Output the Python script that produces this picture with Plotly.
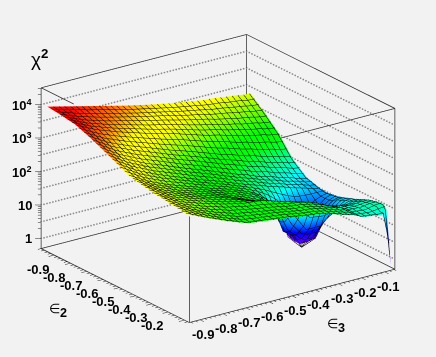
import plotly.graph_objects as go

# ROOT surf1 style chi2 scan, z is stored as log10(chi2)
eps2 = [-0.95, -0.864, -0.778, -0.692, -0.606, -0.52, -0.48, -0.452, -0.416, -0.379, -0.343, -0.297,
        -0.252, -0.219, -0.176, -0.133, -0.116, -0.09]
eps3 = [-0.94, -0.852, -0.764, -0.676, -0.588, -0.50, -0.412, -0.368, -0.323, -0.279,
        -0.252, -0.216, -0.181, -0.127, -0.104, -0.086, -0.06]
# one row per eps2 value, one column per eps3 value; None is the empty cell at the dip
log_chi2 = [
    [4.00, 3.85, 3.70, 3.55, 3.40, 3.27, 3.15, 3.10, 3.05, 3.00, 2.98, 2.96, 2.92, 2.88, 2.85, 2.83, 2.82],
    [3.95, 3.71, 3.53, 3.38, 3.23, 3.10, 2.95, 2.88, 2.82, 2.74, 2.70, 2.66, 2.60, 2.54, 2.50, 2.48, 2.46],
    [3.88, 3.59, 3.37, 3.18, 3.00, 2.84, 2.65, 2.56, 2.49, 2.40, 2.35, 2.29, 2.22, 2.15, 2.10, 2.08, 2.05],
    [3.72, 3.36, 3.10, 2.88, 2.65, 2.45, 2.23, 2.12, 2.03, 1.92, 1.86, 1.80, 1.71, 1.62, 1.57, 1.53, 1.50],
    [3.53, 3.15, 2.86, 2.63, 2.39, 2.17, 1.94, 1.82, 1.72, 1.60, 1.54, 1.48, 1.38, 1.28, 1.22, 1.18, 1.15],
    [3.33, 2.96, 2.68, 2.45, 2.22, 2.01, 1.78, 1.67, 1.57, 1.46, 1.40, 1.33, 1.24, 1.14, 1.09, 1.05, 1.02],
    [3.24, 2.88, 2.62, 2.40, 2.18, 1.98, 1.75, 1.62, 1.46, 1.25, 1.12, 0.95, 0.85, 0.88, 0.93, 0.97, 1.00],
    [3.17, 2.83, 2.57, 2.36, 2.15, 1.96, 1.72, 1.55, 1.25, 0.85, 0.10, 0.05, 0.10, 0.70, 0.88, 0.97, 1.02],
    [3.12, 2.79, 2.54, 2.34, 2.14, 1.95, 1.70, 1.50, 1.10, 0.55, 0.05, None, 0.10, 0.75, 0.90, 0.98, 1.05],
    [3.08, 2.76, 2.52, 2.33, 2.14, 1.92, 1.65, 1.40, 0.55, 0.35, 0.05, 0.05, 0.10, 0.85, 1.02, 1.10, 1.10],
    [3.05, 2.74, 2.52, 2.33, 2.15, 1.90, 1.65, 1.38, 0.70, 0.40, 0.30, 0.30, 0.60, 0.95, 1.10, 1.17, 1.17],
    [3.00, 2.72, 2.52, 2.34, 2.18, 1.98, 1.75, 1.62, 1.20, 0.75, 0.75, 0.75, 0.95, 1.15, 1.22, 1.25, 1.25],
    [2.98, 2.70, 2.50, 2.32, 2.18, 2.12, 1.92, 1.85, 1.75, 1.56, 1.50, 1.44, 1.38, 1.30, 1.35, 1.35, 1.35],
    [2.95, 2.68, 2.46, 2.28, 2.15, 2.05, 1.92, 1.88, 1.82, 1.72, 1.62, 1.50, 1.40, 1.40, 1.42, 1.42, 1.42],
    [2.93, 2.65, 2.42, 2.22, 2.11, 2.01, 1.90, 1.87, 1.80, 1.70, 1.63, 1.57, 1.45, 1.43, 1.46, 1.47, 1.47],
    [2.90, 2.63, 2.38, 2.17, 2.08, 2.00, 1.89, 1.86, 1.79, 1.69, 1.63, 1.56, 1.44, 1.40, 1.44, 1.48, 1.50],
    [2.89, 2.62, 2.37, 2.15, 2.07, 1.99, 1.88, 1.85, 1.78, 1.68, 1.62, 1.55, 1.43, 1.39, 1.38, 1.38, 1.38],
    [2.88, 2.60, 2.35, 2.13, 2.06, 1.98, 1.88, 1.85, 1.78, 1.68, 1.62, 1.55, 1.43, 1.38, 1.35, 1.36, -0.20],
]
dip_eps2 = -0.416
dip_eps3 = -0.216
dip_log = -0.20
# table cells around the dip that its wires run to (row, column)
dip_wires = [(7, 10), (7, 11), (7, 12), (8, 10), (8, 12), (9, 10), (9, 11), (9, 12)]

eps2_ticks = [-0.9, -0.8, -0.7, -0.6, -0.5, -0.4, -0.3, -0.2]
eps3_ticks = [-0.9, -0.8, -0.7, -0.6, -0.5, -0.4, -0.3, -0.2, -0.1]
z_ticks = [0, 1, 2, 3, 4]
z_labels = ["1", "10", "10<sup>2</sup>", "10<sup>3</sup>", "10<sup>4</sup>"]
z_grid = [0, 0.5, 1, 1.5, 2, 2.5, 3, 3.5, 4]
log_minor = [0.301, 0.477, 0.602, 0.699, 0.778, 0.845, 0.903, 0.954]

e2lo, e2hi = -0.98, -0.07
e3lo, e3hi = -0.946, -0.056
z0, z1 = -0.3, 4.5
BG = "#f2f2f2"
LABEL = dict(family="Liberation Sans", size=13, color="black", weight="bold")

palette = [
    [0.0, "#8000ff"], [0.16, "#0000ff"], [0.33, "#00ffff"], [0.50, "#00ff00"], [0.56, "#00ff00"],
    [0.74, "#ffff00"], [0.80, "#ffff00"], [0.87, "#ff8000"], [0.96, "#ff0000"], [1.0, "#ff0000"],
]

fig = go.Figure()
fig.add_trace(go.Surface(
    x=eps2, y=eps3, z=[list(col) for col in zip(*log_chi2)],
    colorscale=palette, cmin=-0.1, cmax=4.0, showscale=False, hoverinfo="skip",
    lighting=dict(ambient=1, diffuse=0, specular=0, roughness=1, fresnel=0),
    contours=dict(
        x=dict(show=True, start=-0.95, end=-0.09, size=0.025, color="#000000", width=2),
        y=dict(show=True, start=-0.94, end=-0.06, size=0.025, color="#000000", width=2),
    ),
))


def add_lines(segments, color, width):
    xs, ys, zs = [], [], []
    for a, b in segments:
        xs += [a[0], b[0], None]
        ys += [a[1], b[1], None]
        zs += [a[2], b[2], None]
    fig.add_trace(go.Scatter3d(x=xs, y=ys, z=zs, mode="lines", hoverinfo="skip",
                               line=dict(color=color, width=width)))


frame = [
    ((e2lo, e3lo, z0), (e2lo, e3lo, z1)),
    ((e2lo, e3lo, z1), (e2lo, e3hi, z1)),
    ((e2lo, e3hi, z1), (e2hi, e3hi, z1)),
    ((e2hi, e3hi, z1), (e2hi, e3hi, z0)),
    ((e2lo, e3hi, z0), (e2lo, e3hi, z1)),
    ((e2lo, e3lo, z0), (e2hi, e3lo, z0)),
    ((e2hi, e3lo, z0), (e2hi, e3hi, z0)),
    ((e2lo, e3lo, z0), (e2lo, e3hi, z0)),
    ((e2lo, e3hi, z0), (e2hi, e3hi, z0)),
    # the front edges only show where the surface does not cover them
    ((e2hi, e3lo, z0), (e2hi, e3lo, z0 + 0.66 * (z1 - z0))),
    ((e2lo, e3lo, z1), (e2lo + 0.22 * (e2hi - e2lo), e3lo, z1)),
    ((e2hi, e3hi, z1), (e2hi, e3hi - 0.554 * (e3hi - e3lo), z1)),
]
add_lines(frame, "#303030", 1.5)

add_lines([((dip_eps2, dip_eps3, dip_log), (eps2[r], eps3[c], log_chi2[r][c])) for r, c in dip_wires],
          "#000000", 1)

# dotted grid on the two back walls, drawn as small points
dots_x, dots_y, dots_z = [], [], []
for z in z_grid:
    for k in range(70):
        dots_x.append(e2lo)
        dots_y.append(e3lo + (e3hi - e3lo) * k / 70)
        dots_z.append(z)
    for k in range(55):
        dots_x.append(e2lo + (e2hi - e2lo) * k / 55)
        dots_y.append(e3hi)
        dots_z.append(z)
fig.add_trace(go.Scatter3d(x=dots_x, y=dots_y, z=dots_z, mode="markers", hoverinfo="skip",
                           marker=dict(size=1, color="#8a8a8a", line=dict(width=0))))

ticks = []
for i in range(-49, -1):
    v = i / 50
    size = 0.024 if i % 5 == 0 else 0.014
    if e2lo <= v <= e2hi:
        ticks.append(((v, e3lo, z0), (v, e3lo - size, z0)))
    if e3lo <= v <= e3hi:
        ticks.append(((e2hi, v, z0), (e2hi + size, v, z0)))
for d in range(0, 5):
    ticks.append(((e2lo, e3lo, d), (e2lo - 0.0126, e3lo - 0.0172, d)))
    for m in log_minor:
        if d + m < z1:
            ticks.append(((e2lo, e3lo, d + m), (e2lo - 0.007, e3lo - 0.009, d + m)))
add_lines(ticks, "#202020", 1)

notes = []
for v in eps2_ticks:
    notes.append(dict(x=v, y=e3lo, z=z0, text=f"{v:.1f}", showarrow=False, font=LABEL, xshift=-16, yshift=-14))
for v in eps3_ticks:
    notes.append(dict(x=e2hi, y=v, z=z0, text=f"{v:.1f}", showarrow=False, font=LABEL, xshift=3, yshift=-15))
for v, label in zip(z_ticks, z_labels):
    notes.append(dict(x=e2lo, y=e3lo, z=v, text=label, showarrow=False, font=LABEL, xanchor="right", xshift=-7))

TITLE = dict(family="Liberation Sans", size=18, color="black")
fig.update_layout(
    width=436, height=357, margin=dict(l=0, r=0, t=0, b=0),
    paper_bgcolor=BG, showlegend=False,
    scene=dict(
        xaxis=dict(visible=False, range=[e2lo - 0.05, e2hi + 0.05]),
        yaxis=dict(visible=False, range=[e3lo - 0.05, e3hi + 0.05]),
        zaxis=dict(visible=False, range=[z0 - 0.3, z1 + 0.3]),
        aspectmode="manual", aspectratio=dict(x=1.576, y=1.579, z=1.086),
        camera=dict(eye=dict(x=0.757 * 1.136, y=-0.546 * 1.136, z=0.36 * 1.136),
                    projection=dict(type="orthographic")),
        annotations=notes,
        bgcolor=BG,
    ),
    annotations=[
        dict(text="χ<sup><b>2</b></sup>", x=39 / 436, y=1 - 58 / 357, xref="paper", yref="paper", showarrow=False,
             xanchor="center", yanchor="middle", font=dict(family="Liberation Sans", size=19, color="black")),
        dict(text="<span style='font-size:13px'>∈</span><sub><b>2</b></sub>", x=58 / 436, y=1 - 310 / 357,
             xref="paper", yref="paper", showarrow=False, xanchor="center", yanchor="middle", font=TITLE),
        dict(text="<span style='font-size:13px'>∈</span><sub><b>3</b></sub>", x=336 / 436, y=1 - 325 / 357,
             xref="paper", yref="paper", showarrow=False, xanchor="center", yanchor="middle", font=TITLE),
    ],
)
fig.write_html("out.html", config={"displayModeBar": False},
               post_script="document.body.style.margin='0';document.body.style.background='%s';" % BG)
